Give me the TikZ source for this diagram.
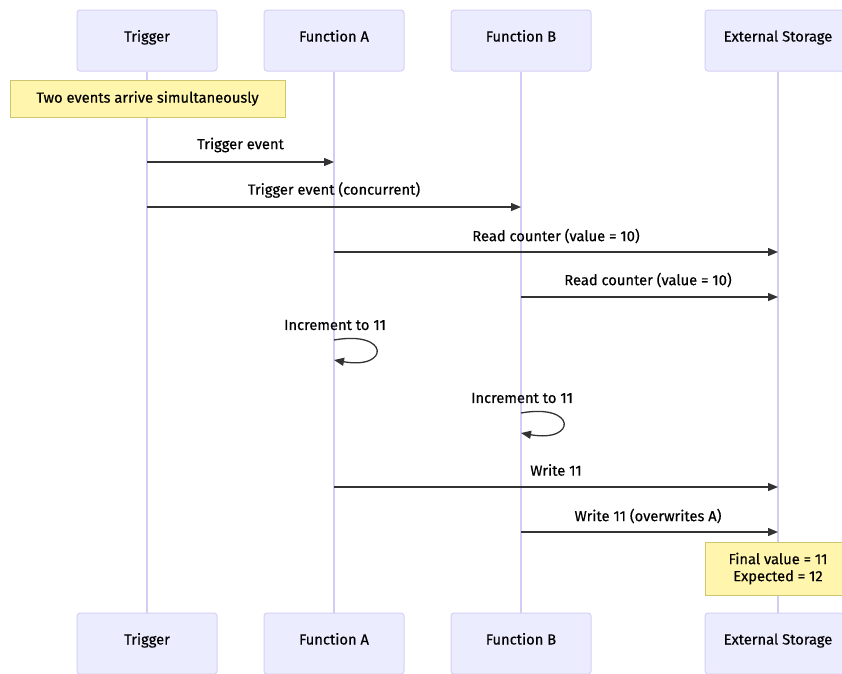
\documentclass[tikz,border=0pt]{standalone}
\usepackage{fontspec}
\setmainfont{Fira Sans}[FakeBold=0.4]
\usetikzlibrary{arrows.meta}
\definecolor{actfill}{HTML}{ECECFF}
\definecolor{actline}{HTML}{D6D0F5}
\definecolor{lifecol}{HTML}{D3CCF5}
\definecolor{notefill}{HTML}{FFF5AD}
\definecolor{noteline}{HTML}{CFC770}
\definecolor{ink}{HTML}{333333}
\newcommand{\up}[1]{\raisebox{-1pt}[0pt][0pt]{#1}}
\tikzset{
  actor/.style={draw=actline, fill=actfill, line width=1pt, rounded corners=3pt,
    minimum width=140pt, minimum height=61pt, inner sep=0pt, text=black,
    font=\fontsize{14.7}{17}\selectfont},
  life/.style={draw=lifecol, line width=1.5pt},
  msg/.style={draw=ink, line width=1.3pt, -{Triangle[length=10pt,width=8pt]}},
  lbl/.style={text=black, inner sep=0pt, font=\fontsize{14.7}{17}\selectfont},
  notebox/.style={draw=noteline, fill=notefill, line width=1pt, inner sep=0pt,
    text=black, align=center, font=\fontsize{14.7}{17}\selectfont}
}
\begin{document}
\begin{tikzpicture}[x=1pt,y=-1pt]
\useasboundingbox (0,0) rectangle (842,673);
\fill[white] (0,0) rectangle (842,673);
% actors top
\node[actor] (tT) at (147,40.5) {\up{Trigger}};
\node[actor] (tA) at (334,40.5) {\up{Function A}};
\node[actor] (tB) at (521,40.5) {\up{Function B}};
\node[actor, minimum width=146pt] (tS) at (778,40.5) {\up{External Storage}};
% actors bottom
\node[actor] (bT) at (147,643.5) {\up{Trigger}};
\node[actor] (bA) at (334,643.5) {\up{Function A}};
\node[actor] (bB) at (521,643.5) {\up{Function B}};
\node[actor, minimum width=146pt] (bS) at (778,643.5) {\up{External Storage}};
% lifelines
\draw[life] (tT.south) -- (bT.north);
\draw[life] (tA.south) -- (bA.north);
\draw[life] (tB.south) -- (bB.north);
\draw[life] (tS.south) -- (bS.north);
% note 1
\node[notebox, minimum width=275pt, minimum height=37pt] (n1) at (147.5,98.5) {Two events arrive simultaneously};
% message end points
\coordinate (m1a) at (147,162); \coordinate (m1b) at (334,162);
\coordinate (m2a) at (147,207); \coordinate (m2b) at (521,207);
\coordinate (m3a) at (334,252); \coordinate (m3b) at (778,252);
\coordinate (m4a) at (521,297); \coordinate (m4b) at (778,297);
\coordinate (s1a) at (334,340); \coordinate (s1b) at (334,360);
\coordinate (s2a) at (521,413); \coordinate (s2b) at (521,433);
\coordinate (m7a) at (334,487); \coordinate (m7b) at (778,487);
\coordinate (m8a) at (521,532); \coordinate (m8b) at (778,532);
% messages
\draw[msg] (m1a) -- (m1b);
\node[lbl] (l1) at (240.5,145) {Trigger event};
\draw[msg] (m2a) -- (m2b);
\node[lbl] (l2) at (334,190) {Trigger event (concurrent)};
\draw[msg] (m3a) -- (m3b);
\node[lbl] (l3) at (556,236) {Read counter (value = 10)};
\draw[msg] (m4a) -- (m4b);
\node[lbl] (l4) at (648,280) {Read counter (value = 10)};
\draw[msg] (s1a) .. controls +(56,-10) and +(56,10) .. (s1b);
\node[lbl] (l5) at (335,325) {Increment to 11};
\draw[msg] (s2a) .. controls +(56,-10) and +(56,10) .. (s2b);
\node[lbl] (l6) at (522,398) {Increment to 11};
\draw[msg] (m7a) -- (m7b);
\node[lbl] (l7) at (556,470) {Write 11};
\draw[msg] (m8a) -- (m8b);
\node[lbl] (l8) at (648,516) {Write 11 (overwrites A)};
% note 2
\node[notebox, minimum width=146pt, minimum height=53pt] (n2) at (778,568.5) {Final value = 11\\Expected = 12};
\end{tikzpicture}
\end{document}
